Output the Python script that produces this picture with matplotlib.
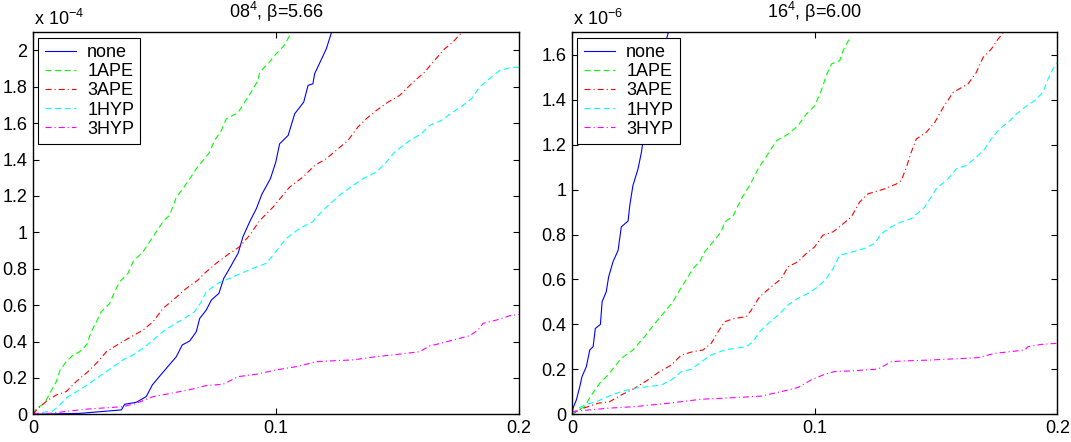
import matplotlib
matplotlib.use('Agg')
import matplotlib.pyplot as plt
from matplotlib.ticker import FuncFormatter

plt.rcParams['font.family'] = ['Liberation Sans', 'DejaVu Sans']
plt.rcParams['mathtext.fontset'] = 'custom'
plt.rcParams['mathtext.rm'] = 'Liberation Sans'
plt.rcParams['lines.scale_dashes'] = False

# --- linkes Bild: 08^4, beta=5.66 (y in Einheiten von 1e-4) ---
l_none_t = [0, 0.0192, 0.0364, 0.0377, 0.0425, 0.0466, 0.0491, 0.0514, 0.0549, 0.059, 0.0614, 0.0645,
            0.0672, 0.0686, 0.0713, 0.0734, 0.0765, 0.0785, 0.0809, 0.0844, 0.0864, 0.0892, 0.0919,
            0.0942, 0.0977, 0.0999, 0.1015, 0.105, 0.1077, 0.1114, 0.1132, 0.1152, 0.1159, 0.1191,
            0.1207, 0.1228]
l_none_v = [0, 0.005, 0.024, 0.055, 0.066, 0.097, 0.161, 0.198, 0.253, 0.317, 0.381, 0.403,
            0.454, 0.527, 0.573, 0.628, 0.665, 0.747, 0.802, 0.885, 0.976, 1.059, 1.13,
            1.21, 1.295, 1.386, 1.487, 1.533, 1.652, 1.716, 1.808, 1.817, 1.872, 1.963,
            2.009, 2.097]

l_1ape_t = [0, 0.0014, 0.0048, 0.0069, 0.0096, 0.0112, 0.0137, 0.0165, 0.0192, 0.022, 0.024, 0.0261,
            0.0281, 0.0316, 0.0336, 0.0357, 0.0391, 0.0412, 0.0453, 0.048, 0.0508, 0.0535, 0.0562,
            0.059, 0.0617, 0.0645, 0.0672, 0.07, 0.0727, 0.0747, 0.0775, 0.0796, 0.0844, 0.0871,
            0.0898, 0.0926, 0.0933, 0.0967, 0.1001, 0.1036, 0.1056, 0.1066]
l_1ape_v = [0, 0.033, 0.06, 0.115, 0.18, 0.244, 0.289, 0.326, 0.344, 0.381, 0.454, 0.509,
            0.564, 0.61, 0.674, 0.729, 0.775, 0.839, 0.894, 0.949, 1.004, 1.059, 1.094,
            1.194, 1.24, 1.295, 1.35, 1.396, 1.441, 1.505, 1.56, 1.625, 1.658, 1.716,
            1.771, 1.835, 1.881, 1.927, 1.982, 2.031, 2.082, 2.097]

l_3ape_t = [0, 0.0021, 0.0062, 0.0096, 0.0137, 0.0178, 0.0226, 0.0267, 0.0302, 0.0357, 0.0405, 0.0453,
            0.0494, 0.0535, 0.0576, 0.0631, 0.0679, 0.0706, 0.0754, 0.0809, 0.085, 0.0892, 0.0933,
            0.0988, 0.1056, 0.1111, 0.1159, 0.1207, 0.1248, 0.1296, 0.1337, 0.1372, 0.1413, 0.1461,
            0.1509, 0.1564, 0.1612, 0.1646, 0.1694, 0.1728, 0.1763]
l_3ape_v = [0, 0.033, 0.079, 0.106, 0.125, 0.18, 0.234, 0.289, 0.344, 0.39, 0.427, 0.463,
            0.509, 0.582, 0.628, 0.692, 0.738, 0.775, 0.83, 0.885, 0.921, 0.985, 1.065,
            1.139, 1.249, 1.304, 1.368, 1.405, 1.451, 1.505, 1.579, 1.625, 1.67, 1.716,
            1.753, 1.826, 1.881, 1.936, 2.009, 2.046, 2.097]

l_1hyp_t = [0, 0.0041, 0.0082, 0.011, 0.0144, 0.0192, 0.0233, 0.0281, 0.0322, 0.037, 0.0412, 0.0453,
            0.0494, 0.0535, 0.0576, 0.0624, 0.0665, 0.0693, 0.0713, 0.0761, 0.0809, 0.0857, 0.0905,
            0.096, 0.0988, 0.1043, 0.1097, 0.1152, 0.1166, 0.1207, 0.1269, 0.1317, 0.1358, 0.1413,
            0.1454, 0.1488, 0.155, 0.1598, 0.1632, 0.168, 0.1728, 0.1769, 0.1804, 0.1838, 0.1886,
            0.1921, 0.1962, 0.2]
l_1hyp_v = [0, 0.011, 0.018, 0.051, 0.097, 0.134, 0.17, 0.216, 0.253, 0.299, 0.326, 0.363,
            0.408, 0.454, 0.491, 0.527, 0.564, 0.619, 0.674, 0.72, 0.747, 0.775, 0.802,
            0.83, 0.875, 0.967, 1.022, 1.059, 1.084, 1.139, 1.212, 1.258, 1.295, 1.332,
            1.386, 1.441, 1.505, 1.542, 1.588, 1.615, 1.661, 1.698, 1.734, 1.799, 1.853,
            1.89, 1.905, 1.908]

l_3hyp_t = [0, 0.0069, 0.0151, 0.0226, 0.0316, 0.037, 0.0425, 0.0494, 0.059, 0.0658, 0.0713, 0.0782,
            0.0844, 0.0919, 0.1001, 0.1084, 0.1166, 0.1248, 0.1317, 0.1413, 0.1523, 0.1591, 0.1632,
            0.1715, 0.1797, 0.1831, 0.1852, 0.1907, 0.1962, 0.2]
l_3hyp_v = [0.005, 0.005, 0.018, 0.029, 0.037, 0.042, 0.06, 0.097, 0.121, 0.139, 0.158, 0.165,
            0.207, 0.22, 0.244, 0.262, 0.289, 0.295, 0.299, 0.317, 0.333, 0.344, 0.375,
            0.403, 0.432, 0.463, 0.5, 0.518, 0.542, 0.549]

# --- rechtes Bild: 16^4, beta=6.00 (y in Einheiten von 1e-6) ---
r_none_t = [0, 0.0004, 0.0018, 0.0032, 0.0041, 0.0059, 0.0073, 0.0087, 0.0096, 0.0117, 0.0124, 0.0141,
            0.0151, 0.0169, 0.019, 0.0203, 0.0231, 0.0238, 0.0251, 0.0272, 0.0286, 0.0302, 0.0327,
            0.0354, 0.0382, 0.0396]
r_none_v = [0, 0.027, 0.064, 0.123, 0.167, 0.212, 0.286, 0.301, 0.382, 0.4, 0.501, 0.545,
            0.612, 0.679, 0.73, 0.834, 0.86, 0.929, 1.018, 1.092, 1.166, 1.284, 1.433,
            1.551, 1.64, 1.696]

r_1ape_t = [0, 0.0018, 0.0052, 0.008, 0.0114, 0.0148, 0.0203, 0.0251, 0.0299, 0.0341, 0.0382, 0.0416,
            0.0444, 0.0478, 0.0499, 0.0526, 0.0547, 0.0581, 0.0615, 0.0629, 0.0663, 0.0698, 0.0732,
            0.0767, 0.0808, 0.0843, 0.0891, 0.0931, 0.0966, 0.1, 0.1027, 0.1048, 0.1069, 0.1103,
            0.1117, 0.1144]
r_1ape_v = [0, 0.012, 0.034, 0.086, 0.138, 0.175, 0.249, 0.286, 0.345, 0.404, 0.456, 0.501,
            0.553, 0.612, 0.649, 0.679, 0.723, 0.767, 0.812, 0.856, 0.88, 0.959, 1.018,
            1.092, 1.159, 1.218, 1.247, 1.284, 1.336, 1.373, 1.44, 1.507, 1.559, 1.573,
            1.618, 1.673]

r_3ape_t = [0, 0.0025, 0.0066, 0.0107, 0.0155, 0.0203, 0.0258, 0.0313, 0.0361, 0.0409, 0.0451, 0.0499,
            0.054, 0.0574, 0.0602, 0.0629, 0.067, 0.0718, 0.0739, 0.0773, 0.0821, 0.0863, 0.089,
            0.0931, 0.0966, 0.1, 0.1034, 0.1076, 0.111, 0.1151, 0.1185, 0.122, 0.1288, 0.1337,
            0.1357, 0.1378, 0.1398, 0.1419, 0.146, 0.1495, 0.153, 0.1571, 0.1632, 0.1666, 0.1694,
            0.1728, 0.1756, 0.1777]
r_3ape_v = [0, 0.019, 0.034, 0.049, 0.056, 0.086, 0.116, 0.153, 0.19, 0.219, 0.264, 0.279,
            0.286, 0.316, 0.367, 0.412, 0.427, 0.434, 0.464, 0.523, 0.567, 0.604, 0.656,
            0.679, 0.716, 0.745, 0.797, 0.812, 0.841, 0.878, 0.944, 0.981, 1.003, 1.025,
            1.04, 1.099, 1.166, 1.225, 1.255, 1.299, 1.366, 1.433, 1.47, 1.521, 1.588,
            1.625, 1.67, 1.696]

r_1hyp_t = [0, 0.0025, 0.0059, 0.01, 0.0148, 0.0203, 0.0258, 0.0313, 0.0368, 0.0409, 0.0451, 0.0492,
            0.0533, 0.0574, 0.0629, 0.067, 0.0718, 0.0746, 0.0773, 0.0808, 0.0849, 0.089, 0.0931,
            0.0973, 0.1014, 0.1048, 0.1076, 0.1103, 0.1144, 0.1206, 0.1247, 0.1275, 0.1316, 0.1357,
            0.1398, 0.1453, 0.1501, 0.1549, 0.1584, 0.1625, 0.1666, 0.1701, 0.1728, 0.1762, 0.1797,
            0.1832, 0.1866, 0.1907, 0.1941, 0.1962, 0.1982, 0.2]
r_1hyp_v = [0, 0.027, 0.044, 0.056, 0.079, 0.101, 0.116, 0.123, 0.13, 0.153, 0.19, 0.2,
            0.234, 0.264, 0.286, 0.293, 0.301, 0.323, 0.367, 0.404, 0.441, 0.486, 0.516,
            0.538, 0.567, 0.604, 0.649, 0.708, 0.719, 0.738, 0.76, 0.804, 0.834, 0.856,
            0.871, 0.921, 1.003, 1.047, 1.092, 1.107, 1.144, 1.181, 1.225, 1.27, 1.299,
            1.336, 1.366, 1.396, 1.433, 1.492, 1.536, 1.565]

r_3hyp_t = [0, 0.0066, 0.0148, 0.0258, 0.0396, 0.0533, 0.067, 0.078, 0.0863, 0.0931, 0.0986, 0.1041,
            0.1082, 0.1151, 0.1261, 0.1316, 0.1357, 0.1467, 0.1563, 0.1673, 0.1742, 0.1866, 0.1879,
            0.1934, 0.2]
r_3hyp_v = [0.012, 0.019, 0.027, 0.034, 0.049, 0.067, 0.074, 0.081, 0.101, 0.119, 0.153, 0.178,
            0.19, 0.193, 0.201, 0.234, 0.237, 0.241, 0.246, 0.252, 0.271, 0.286, 0.301,
            0.311, 0.316]

labels = ['none', '1APE', '3APE', '1HYP', '3HYP']
colors = ['#0000ff', '#00ff00', '#ff0000', '#00ffff', '#ff00ff']
dash_styles = [None, (0, (4.3, 2.6)), (0, (4.3, 2.2, 0.8, 2.2)), (0, (4.3, 2.6)), (0, (4.3, 2.2, 0.8, 2.2))]

panels = [
    dict(title='08$^4$, β=5.66', exp='-4', ylim=2.1, yticks=[i * 0.2 for i in range(11)],
         pos=[0.0308, 0.0627, 0.4538, 0.8643],
         series=[(l_none_t, l_none_v), (l_1ape_t, l_1ape_v), (l_3ape_t, l_3ape_v),
                 (l_1hyp_t, l_1hyp_v), (l_3hyp_t, l_3hyp_v)]),
    dict(title='16$^4$, β=6.00', exp='-6', ylim=1.7, yticks=[i * 0.2 for i in range(9)],
         pos=[0.5341, 0.0627, 0.4531, 0.8643],
         series=[(r_none_t, r_none_v), (r_1ape_t, r_1ape_v), (r_3ape_t, r_3ape_v),
                 (r_1hyp_t, r_1hyp_v), (r_3hyp_t, r_3hyp_v)]),
]

fs = 13

fig = plt.figure(figsize=(10.71, 4.42), dpi=100)

for p in panels:
    ax = fig.add_axes(p['pos'])
    for (t, v), lab, col, ls in zip(p['series'], labels, colors, dash_styles):
        ax.plot(t, v, color=col, lw=0.8, label=lab, linestyle='-' if ls is None else ls)
    ax.set_xlim(0, 0.2)
    ax.set_ylim(0, p['ylim'])
    ax.set_xticks([0, 0.1, 0.2])
    ax.set_yticks(p['yticks'])
    fmt = FuncFormatter(lambda val, pos: '%g' % round(val, 4))
    ax.xaxis.set_major_formatter(fmt)
    ax.yaxis.set_major_formatter(fmt)
    ax.tick_params(direction='in', length=4.3, width=0.8, top=True, right=True,
                   labelsize=fs, pad=4, colors='black')
    for s in ax.spines.values():
        s.set_linewidth(1.0)
    ax.set_title(p['title'], fontsize=fs, pad=10.5)
    ax.text(0.003, 1.018, 'x 10$^{\\mathrm{' + p['exp'] + '}}$', transform=ax.transAxes,
            fontsize=fs, va='baseline', ha='left')
    leg = ax.legend(loc='upper left', fontsize=fs, frameon=True, fancybox=False,
                    edgecolor='black', framealpha=1, borderaxespad=0.3,
                    handlelength=1.75, handletextpad=0.6, labelspacing=0.12,
                    borderpad=0.35)
    leg.get_frame().set_linewidth(0.8)

fig.savefig('out.png', dpi=100)
